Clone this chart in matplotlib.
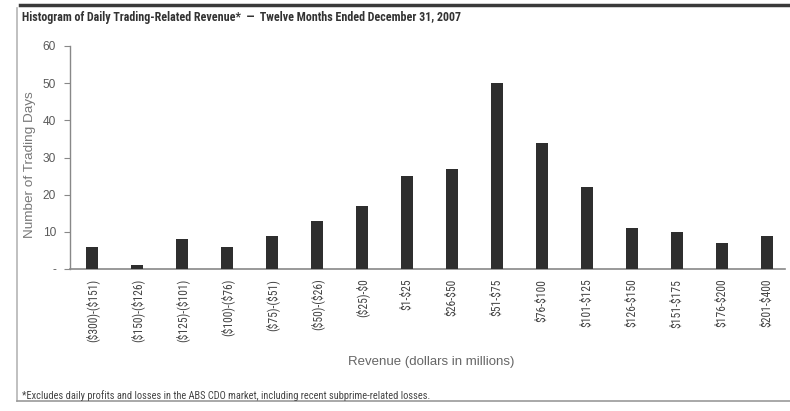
import matplotlib
matplotlib.use("Agg")
import matplotlib.pyplot as plt
from matplotlib import font_manager
from matplotlib.lines import Line2D

plt.rcParams["text.parse_math"] = False

categories = ["($300)-($151)", "($150)-($126)", "($125)-($101)", "($100)-($76)",
              "($75)-($51)", "($50)-($26)", "($25)-$0", "$1-$25", "$26-$50",
              "$51-$75", "$76-$100", "$101-$125", "$126-$150", "$151-$175",
              "$176-$200", "$201-$400"]
days = [6, 1, 8, 6, 9, 13, 17, 25, 27, 50, 34, 22, 11, 10, 7, 9]
yticks = [0, 10, 20, 30, 40, 50, 60]
ytick_labels = ["-", "10", "20", "30", "40", "50", "60"]

title = "Histogram of Daily Trading-Related Revenue*  \u2014  Twelve Months Ended December 31, 2007"
footnote = "*Excludes daily profits and losses in the ABS CDO market, including recent subprime-related losses."

# pick a condensed face if one is installed
names = {f.name for f in font_manager.fontManager.ttflist}
condensed_stretch = {f.name for f in font_manager.fontManager.ttflist
                     if str(f.stretch) in ("condensed", "semi-condensed", "extra-condensed")}
narrow_family = None
for cand in ["Liberation Sans Narrow", "Roboto Condensed", "Open Sans Condensed",
             "DejaVu Sans Condensed", "Noto Sans Condensed"]:
    if cand in names:
        narrow_family = cand
        break
if narrow_family is None and "DejaVu Sans" in condensed_stretch:
    narrow_kw = dict(family=["DejaVu Sans"], stretch="condensed")
    scale = 1.0
elif narrow_family is not None:
    narrow_kw = dict(family=[narrow_family, "DejaVu Sans"])
    scale = 1.0
else:
    narrow_kw = dict(family=["Roboto", "DejaVu Sans"])
    scale = 0.82

W, H = 790, 411
fig = plt.figure(figsize=(W / 100, H / 100), dpi=100)
fig.patch.set_facecolor("white")

plain = ["Liberation Sans", "DejaVu Sans"]
gray = "#5a5a5a"

ax = fig.add_axes([70 / W, 1 - 269 / H, (785 - 70) / W, (269 - 46) / H])
x = list(range(len(categories)))
ax.bar(x, days, width=0.27, color="#2e2e2e", zorder=3)
ax.set_xlim(-0.489, 15.4)
ax.set_ylim(0, 60)

for s in ["top", "right"]:
    ax.spines[s].set_visible(False)
ax.spines["left"].set_color("#888888")
ax.spines["bottom"].set_color("#888888")
ax.spines["left"].set_linewidth(1.0)
ax.spines["bottom"].set_linewidth(1.2)

ax.set_yticks(yticks)
ax.set_yticklabels(ytick_labels, family=plain, fontsize=8.6, color=gray)
ax.tick_params(axis="y", direction="out", length=4.5, color="#888888", pad=5.5)
ax.set_xticks(x)
ax.set_xticklabels(categories, rotation=90, fontsize=8.4 * scale,
                   color="#444444", va="top", **narrow_kw)
ax.tick_params(axis="x", length=0, pad=7)

fig.text(30 / W, 1 - 165 / H, "Number of Trading Days", family=plain, fontsize=9.7,
         color="#777777", rotation=90, ha="center", va="center")
fig.text(431 / W, 1 - 362 / H, "Revenue (dollars in millions)", family=plain,
         fontsize=9.5, color="#666666", ha="center", va="center")

fig.text(22 / W, 1 - 17 / H, title, fontweight="bold", fontsize=8.65 * scale,
         color="#333333", ha="left", va="center", **narrow_kw)
fig.text(22 / W, 1 - 396 / H, footnote, fontsize=7.45 * scale,
         color="#444444", ha="left", va="center", **narrow_kw)

# Frame: heavy rule on top, light rules on the left and bottom
fig.add_artist(Line2D([20 / W, 1.0], [1 - 5 / H, 1 - 5 / H], color="#3a3a3a",
                      linewidth=2.5, transform=fig.transFigure))
fig.add_artist(Line2D([16.5 / W, 16.5 / W], [1 - 8 / H, 1 - 401 / H], color="#b5b5b5",
                      linewidth=1.2, transform=fig.transFigure))
fig.add_artist(Line2D([16.5 / W, 1.0], [1 - 401 / H, 1 - 401 / H], color="#999999",
                      linewidth=1.2, transform=fig.transFigure))

fig.savefig("out.png", dpi=100)
